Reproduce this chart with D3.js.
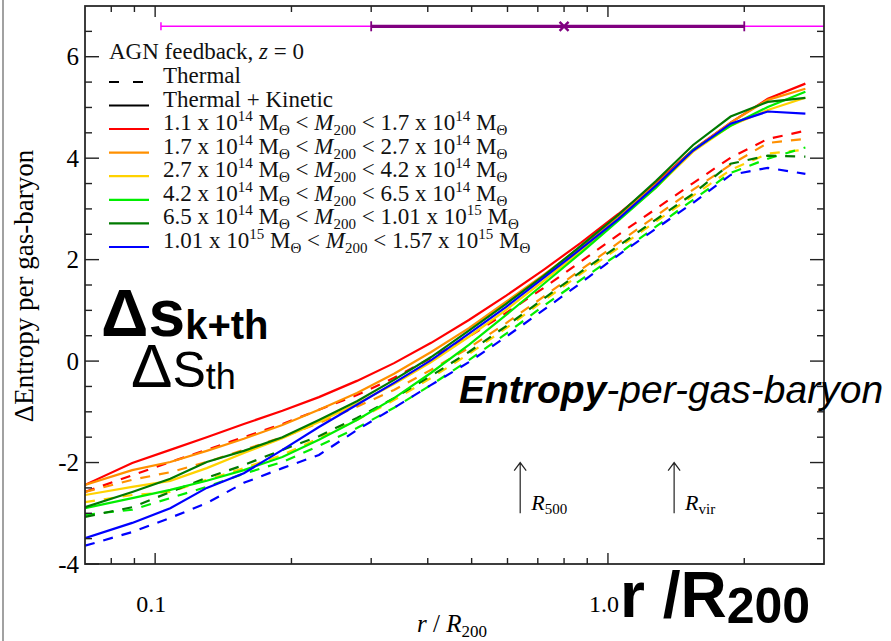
<!DOCTYPE html>
<html>
<head>
<meta charset="utf-8">
<script src="https://cdn.jsdelivr.net/npm/d3@7"></script>
<style>
  body { margin: 0; background: #fff; }
  svg { display: block; }
  text { white-space: pre; }
</style>
</head>
<body>
<svg id="chart" width="891" height="641"></svg>
<script>
// Radial bins (r / R200)
const radii = [0.070, 0.089, 0.108, 0.130, 0.157, 0.191, 0.230, 0.279, 0.337, 0.407,
               0.493, 0.596, 0.721, 0.871, 1.054, 1.276, 1.542, 1.866, 2.254, 2.729];

// Thermal + Kinetic AGN feedback (solid)
const tkBin1 = [-2.44,-2.01,-1.75,-1.50,-1.24,-0.98,-0.71,-0.39,-0.04,0.36,0.81,1.29,1.80,2.33,2.90,3.51,4.17,4.70,5.17,5.47];
const tkBin2 = [-2.44,-2.15,-1.99,-1.77,-1.53,-1.26,-0.96,-0.63,-0.25,0.18,0.65,1.17,1.70,2.25,2.84,3.48,4.15,4.70,5.15,5.37];
const tkBin3 = [-2.64,-2.48,-2.36,-2.11,-1.81,-1.52,-1.20,-0.84,-0.45,-0.02,0.48,1.01,1.58,2.17,2.79,3.42,4.13,4.64,4.95,5.19];
const tkBin4 = [-2.90,-2.70,-2.54,-2.36,-2.15,-1.89,-1.55,-1.16,-0.73,-0.23,0.32,0.91,1.52,2.13,2.77,3.42,4.17,4.64,5.01,5.31];
const tkBin5 = [-2.88,-2.58,-2.32,-1.99,-1.77,-1.50,-1.16,-0.79,-0.37,0.08,0.60,1.13,1.68,2.27,2.88,3.55,4.26,4.82,5.11,5.19];
const tkBin6 = [-3.49,-3.19,-2.90,-2.50,-2.21,-1.75,-1.30,-0.86,-0.43,0.02,0.54,1.07,1.64,2.21,2.80,3.46,4.15,4.68,4.92,4.88];

// Thermal AGN feedback only (dashed)
const thBin1 = [-2.58,-2.25,-1.99,-1.75,-1.50,-1.24,-0.96,-0.67,-0.33,0.06,0.48,0.95,1.44,1.96,2.49,3.00,3.51,4.01,4.38,4.54];
const thBin2 = [-2.58,-2.34,-2.19,-1.99,-1.75,-1.50,-1.22,-0.90,-0.57,-0.17,0.26,0.75,1.27,1.80,2.33,2.86,3.38,3.87,4.30,4.38];
const thBin3 = [-2.78,-2.64,-2.58,-2.34,-2.11,-1.85,-1.52,-1.16,-0.77,-0.33,0.14,0.65,1.19,1.72,2.23,2.75,3.26,3.77,4.09,4.17];
const thBin4 = [-3.03,-2.93,-2.70,-2.48,-2.22,-1.99,-1.67,-1.32,-0.92,-0.47,0.02,0.54,1.09,1.60,2.11,2.65,3.18,3.71,3.99,4.21];
const thBin5 = [-3.07,-2.88,-2.58,-2.30,-2.05,-1.75,-1.48,-1.12,-0.73,-0.29,0.18,0.69,1.23,1.76,2.27,2.79,3.30,3.89,4.05,4.03];
const thBin6 = [-3.64,-3.37,-3.09,-2.80,-2.40,-2.11,-1.85,-1.36,-0.92,-0.47,-0.02,0.48,1.01,1.54,2.09,2.61,3.12,3.67,3.81,3.69];

// Mass bins (M200 ranges)
const binLow     = ["1.1", "1.7", "2.7", "4.2", "6.5", "1.01"];
const binLowExp  = ["14", "14", "14", "14", "14", "15"];
const binHigh    = ["1.7", "2.7", "4.2", "6.5", "1.01", "1.57"];
const binHighExp = ["14", "14", "14", "14", "15", "15"];
const binColors  = ["#ff0000", "#ff9000", "#ffd200", "#00ee00", "#007a00", "#0000ff"];

// Axis ticks
const yMajorTicks = [-4, -2, 0, 2, 4, 6];
const yMinorTicks = [-3.5, -3, -2.5, -1.5, -1, -0.5, 0.5, 1, 1.5, 2.5, 3, 3.5, 4.5, 5, 5.5, 6.5];
const xMajorTicks = [0.1, 1.0];
const xMajorLabels = ["0.1", "1.0"];
const xMinorTicks = [0.08, 0.09, 0.2, 0.3, 0.4, 0.5, 0.6, 0.7, 0.8, 0.9, 2];

// Characteristic radii markers
const markerRadii = [0.64, 1.40];
const markerNames = ["500", "vir"];

// Radius ranges shown above the profiles
const wideRange = [0.103, 5.0];
const coreRange = [0.3, 2.0];
const coreMid = 0.8;
const rangeLevel = 6.6;

const tkSeries = [tkBin1, tkBin2, tkBin3, tkBin4, tkBin5, tkBin6];
const thSeries = [thBin1, thBin2, thBin3, thBin4, thBin5, thBin6];

const svg = d3.select("#chart");
const pLeft = 85, pRight = 824, pTop = 6, pBottom = 564;

const x = d3.scaleLog().domain([0.07, 3]).range([pLeft, pRight]);
const y = d3.scaleLinear().domain([-4, 7]).range([pBottom, pTop]);

const serif = "'Liberation Serif', 'Times New Roman', serif";
const sans = "'Liberation Sans', Arial, sans-serif";

// slide border on the far left
svg.append("line").attr("x1", 3).attr("x2", 3).attr("y1", 0).attr("y2", 641)
  .attr("stroke", "#8a8a8a").attr("stroke-width", 1.6);

svg.append("clipPath").attr("id", "plotClip")
  .append("rect").attr("x", pLeft).attr("y", pTop)
  .attr("width", pRight - pLeft).attr("height", pBottom - pTop);

const plot = svg.append("g").attr("clip-path", "url(#plotClip)");

const line = d3.line()
  .x((d, i) => x(radii[i]))
  .y(d => y(d));

// dashed (thermal only) first, solid (thermal + kinetic) on top
thSeries.forEach((s, i) => {
  plot.append("path").datum(s).attr("d", line)
    .attr("fill", "none").attr("stroke", binColors[i])
    .attr("stroke-width", 2.2).attr("stroke-dasharray", "10,9");
});
tkSeries.forEach((s, i) => {
  plot.append("path").datum(s).attr("d", line)
    .attr("fill", "none").attr("stroke", binColors[i])
    .attr("stroke-width", 2.2);
});

// radius range bars
plot.append("line")
  .attr("x1", x(wideRange[0])).attr("x2", x(wideRange[1]))
  .attr("y1", y(rangeLevel)).attr("y2", y(rangeLevel))
  .attr("stroke", "#ff00ff").attr("stroke-width", 1.5);
plot.append("line")
  .attr("x1", x(wideRange[0])).attr("x2", x(wideRange[0]))
  .attr("y1", y(rangeLevel) - 4).attr("y2", y(rangeLevel) + 4)
  .attr("stroke", "#ff00ff").attr("stroke-width", 1.5);
plot.append("line")
  .attr("x1", x(coreRange[0])).attr("x2", x(coreRange[1]))
  .attr("y1", y(rangeLevel)).attr("y2", y(rangeLevel))
  .attr("stroke", "#800080").attr("stroke-width", 3.2);
coreRange.forEach(v => {
  plot.append("line")
    .attr("x1", x(v)).attr("x2", x(v))
    .attr("y1", y(rangeLevel) - 5).attr("y2", y(rangeLevel) + 5)
    .attr("stroke", "#800080").attr("stroke-width", 1.8);
});
{
  const cx = x(coreMid), cy = y(rangeLevel), h = 4.5;
  plot.append("path")
    .attr("d", `M${cx - h},${cy - h}L${cx + h},${cy + h}M${cx - h},${cy + h}L${cx + h},${cy - h}`)
    .attr("stroke", "#800080").attr("stroke-width", 2.4);
}

// frame
svg.append("rect").attr("x", pLeft).attr("y", pTop)
  .attr("width", pRight - pLeft).attr("height", pBottom - pTop)
  .attr("fill", "none").attr("stroke", "#2a2a2a").attr("stroke-width", 1.8);

const ticks = svg.append("g").attr("stroke", "#222").attr("stroke-width", 1.4);
yMajorTicks.forEach(v => {
  ticks.append("line").attr("x1", pLeft).attr("x2", pLeft + 14).attr("y1", y(v)).attr("y2", y(v));
  ticks.append("line").attr("x1", pRight).attr("x2", pRight - 14).attr("y1", y(v)).attr("y2", y(v));
});
yMinorTicks.forEach(v => {
  ticks.append("line").attr("x1", pLeft).attr("x2", pLeft + 7).attr("y1", y(v)).attr("y2", y(v));
  ticks.append("line").attr("x1", pRight).attr("x2", pRight - 7).attr("y1", y(v)).attr("y2", y(v));
});
xMajorTicks.forEach(v => {
  ticks.append("line").attr("x1", x(v)).attr("x2", x(v)).attr("y1", pBottom).attr("y2", pBottom - 11);
  ticks.append("line").attr("x1", x(v)).attr("x2", x(v)).attr("y1", pTop).attr("y2", pTop + 11);
});
xMinorTicks.forEach(v => {
  ticks.append("line").attr("x1", x(v)).attr("x2", x(v)).attr("y1", pBottom).attr("y2", pBottom - 6);
  ticks.append("line").attr("x1", x(v)).attr("x2", x(v)).attr("y1", pTop).attr("y2", pTop + 6);
});

// tick labels
yMajorTicks.forEach(v => {
  svg.append("text").attr("x", 79).attr("y", y(v) + 8.5)
    .attr("text-anchor", "end").attr("font-family", serif).attr("font-size", 25)
    .text(String(v));
});
xMajorTicks.forEach((v, i) => {
  svg.append("text").attr("x", x(v) - 4).attr("y", 612)
    .attr("text-anchor", "middle").attr("font-family", serif).attr("font-size", 24)
    .text(xMajorLabels[i]);
});

// axis titles
svg.append("text")
  .attr("transform", `translate(33,286) rotate(-90)`)
  .attr("text-anchor", "middle").attr("font-family", serif).attr("font-size", 27)
  .text("ΔEntropy per gas-baryon");

{
  const t = svg.append("text").attr("x", 452).attr("y", 632)
    .attr("text-anchor", "middle").attr("font-family", serif).attr("font-size", 25);
  t.append("tspan").attr("font-style", "italic").text("r");
  t.append("tspan").text(" / ");
  t.append("tspan").attr("font-style", "italic").text("R");
  t.append("tspan").attr("font-size", 17).attr("dy", 5).text("200");
}

// characteristic radius arrows
markerRadii.forEach((r, i) => {
  const ax = x(r), y0 = y(-3), y1 = y(-2);
  svg.append("path")
    .attr("d", `M${ax},${y0}L${ax},${y1}M${ax - 6},${y1 + 8}L${ax},${y1}L${ax + 6},${y1 + 8}`)
    .attr("fill", "none").attr("stroke", "#222").attr("stroke-width", 1.2);
  const t = svg.append("text").attr("x", ax + 11).attr("y", y(-3) - 3)
    .attr("font-family", serif).attr("font-size", 22);
  t.append("tspan").attr("font-style", "italic").text("R");
  t.append("tspan").attr("font-size", 15).attr("dy", 4).text(markerNames[i]);
});

// legend
const legend = svg.append("g").attr("font-family", serif).attr("font-size", 23).attr("fill", "#111");
{
  const t = legend.append("text").attr("x", 109).attr("y", 59);
  t.append("tspan").text("AGN feedback, ");
  t.append("tspan").attr("font-style", "italic").text("z");
  t.append("tspan").text(" = 0");
}
const rowY = [82, 105.5, 129, 152.6, 176.2, 199.8, 223.4, 247];
legend.append("line").attr("x1", 109).attr("x2", 149).attr("y1", rowY[0]).attr("y2", rowY[0])
  .attr("stroke", "#000").attr("stroke-width", 2.2).attr("stroke-dasharray", "10,14");
legend.append("text").attr("x", 163).attr("y", rowY[0] + 1).text("Thermal");
legend.append("line").attr("x1", 109).attr("x2", 149).attr("y1", rowY[1]).attr("y2", rowY[1])
  .attr("stroke", "#000").attr("stroke-width", 2.2);
legend.append("text").attr("x", 163).attr("y", rowY[1] + 1).text("Thermal + Kinetic");

binLow.forEach((lo, i) => {
  const ly = rowY[i + 2];
  legend.append("line").attr("x1", 109).attr("x2", 149).attr("y1", ly).attr("y2", ly)
    .attr("stroke", binColors[i]).attr("stroke-width", 2.2);
  const t = legend.append("text").attr("x", 163).attr("y", ly + 1);
  t.append("tspan").text(`${lo} x 10`);
  t.append("tspan").attr("font-size", 15).attr("dy", -9).text(binLowExp[i]);
  t.append("tspan").attr("dy", 9).text(" M");
  t.append("tspan").attr("font-size", 15).attr("dy", 5).text("Θ");
  t.append("tspan").attr("dy", -5).text(" < ");
  t.append("tspan").attr("font-style", "italic").text("M");
  t.append("tspan").attr("font-size", 15).attr("dy", 5).text("200");
  t.append("tspan").attr("dy", -5).text(` < ${binHigh[i]} x 10`);
  t.append("tspan").attr("font-size", 15).attr("dy", -9).text(binHighExp[i]);
  t.append("tspan").attr("dy", 9).text(" M");
  t.append("tspan").attr("font-size", 15).attr("dy", 5).text("Θ");
});

// overlaid slide annotations
{
  const t = svg.append("text").attr("x", 101).attr("y", 336)
    .attr("font-family", sans).attr("font-weight", "bold").attr("fill", "#000");
  t.append("tspan").attr("font-size", 66).text("Δs");
  t.append("tspan").attr("font-size", 40).attr("dy", 3).text("k+th");
}
{
  const t = svg.append("text").attr("x", 131).attr("y", 387)
    .attr("font-family", sans).attr("fill", "#000");
  t.append("tspan").attr("font-size", 62).text("Δ");
  t.append("tspan").attr("font-size", 50).text("S");
  t.append("tspan").attr("font-size", 36).attr("dy", 2).text("th");
}
{
  const t = svg.append("text").attr("x", 459).attr("y", 403)
    .attr("font-family", sans).attr("font-size", 39).attr("font-style", "italic").attr("fill", "#000");
  t.append("tspan").attr("font-weight", "bold").text("Entropy");
  t.append("tspan").text("-per-gas-baryon");
}
{
  const t = svg.append("text").attr("x", 620).attr("y", 617)
    .attr("font-family", sans).attr("font-weight", "bold").attr("fill", "#000");
  t.append("tspan").attr("font-size", 64).text("r /R");
  t.append("tspan").attr("font-size", 50).attr("dy", 6).text("200");
}
</script>
</body>
</html>
